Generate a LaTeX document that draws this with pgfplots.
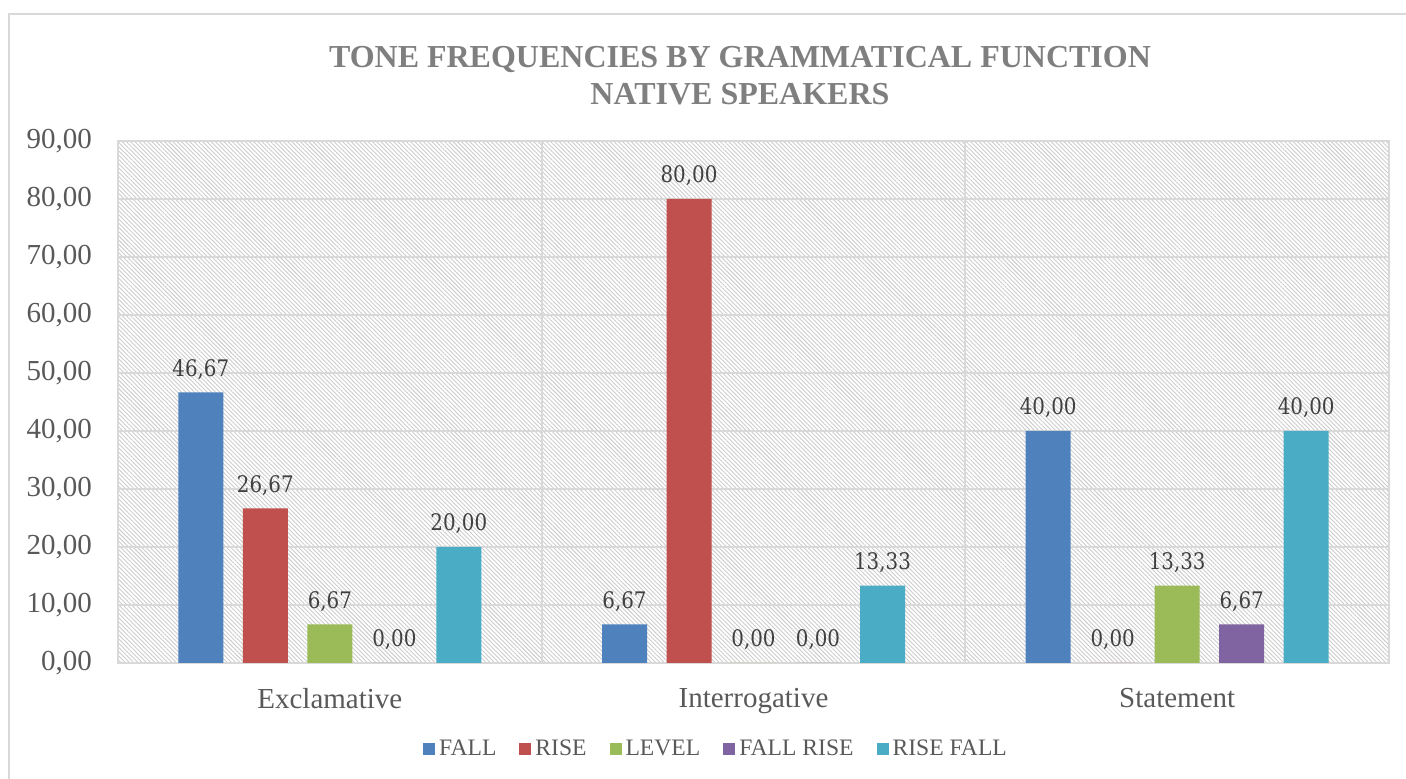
\documentclass[border=0pt]{standalone}
\usepackage{fontspec}
\setmainfont{Liberation Serif}
\newfontfamily\titlefont{Liberation Serif}
\newfontfamily\labfont{DejaVu Serif}[FakeStretch=0.87]
\usepackage{pgfplots}
\pgfplotsset{compat=1.18}
\usetikzlibrary{patterns.meta}
\definecolor{cFall}{HTML}{4F81BD}
\definecolor{cRise}{HTML}{C0504D}
\definecolor{cLevel}{HTML}{9BBB59}
\definecolor{cFallRise}{HTML}{8064A2}
\definecolor{cRiseFall}{HTML}{4BACC6}
\definecolor{gridc}{HTML}{D9D9D9}
\definecolor{tickc}{HTML}{595959}
\definecolor{labc}{HTML}{404040}
\definecolor{titlec}{HTML}{7F7F7F}
\pgfkeys{/pgf/number format/.cd,fixed,fixed zerofill,precision=2,use comma,assume math mode=true}

\pgfplotstableread{
x fall rise level fallrise risefall
0 46.67 26.67 6.67 0.00 20.00
1 6.67 80.00 0.00 0.00 13.33
2 40.00 0.00 13.33 6.67 40.00
}\datatable

\begin{document}
\begin{tikzpicture}
\useasboundingbox (-59pt,-58pt) rectangle (644pt,331.5pt);
\draw[draw=gridc, line width=1pt] (-54.5pt,-62pt) -- (-54.5pt,324.5pt) -- (650pt,324.5pt);
\begin{axis}[
  at={(0pt,0pt)}, anchor=south west,
  width=635.5pt, height=261pt, scale only axis,
  xmin=-0.5, xmax=2.5, ymin=0, ymax=90,
  ytick={0,10,...,90},
  xtick={0,1,2}, xticklabels={Exclamative,Interrogative,Statement},
  minor xtick={0.5,1.5},
  ymajorgrids, xminorgrids,
  grid style={draw=gridc, line width=0.9pt},
  minor grid style={draw=gridc, line width=0.9pt},
  axis line style={draw=gridc, line width=0.9pt},
  major tick length=0pt, minor tick length=0pt,
  tick style={draw=none},
  ybar=9.75pt, bar width=22.5pt,
  axis background/.style={pattern={Lines[angle=-45,distance=1.5pt,line width=0.45pt]}, pattern color=black!20},
  ticklabel style={font=\fontsize{14.5}{17}\selectfont, text=tickc},
  yticklabel style={xshift=-9.5pt},
  xticklabel style={yshift=-9pt},
  nodes near coords,
  nodes near coords style={font=\labfont\fontsize{11.4}{13}\selectfont, text=labc, yshift=3pt},
  legend columns=-1,
  legend style={draw=none, fill=none, at={(0.4713,-0.165)}, anchor=center,
    font=\fontsize{11.8}{13}\selectfont, text=tickc,
    /tikz/every even column/.append style={column sep=9.5pt}},
  legend image code/.code={\fill[#1,draw=none] (0pt,-3pt) rectangle (6pt,3pt);},
  clip=false,
]
\addplot[fill=cFall, draw=none] table[x=x,y=fall] {\datatable};
\addplot[fill=cRise, draw=none] table[x=x,y=rise] {\datatable};
\addplot[fill=cLevel, draw=none] table[x=x,y=level] {\datatable};
\addplot[fill=cFallRise, draw=none] table[x=x,y=fallrise] {\datatable};
\addplot[fill=cRiseFall, draw=none] table[x=x,y=risefall] {\datatable};
\legend{FALL,RISE,LEVEL,FALL RISE,RISE FALL}
\end{axis}
\node[align=center, font=\titlefont\bfseries\fontsize{16}{18.5}\selectfont, text=titlec] at (311pt,293.75pt) {TONE FREQUENCIES BY GRAMMATICAL FUNCTION\\NATIVE SPEAKERS};
\end{tikzpicture}
\end{document}
